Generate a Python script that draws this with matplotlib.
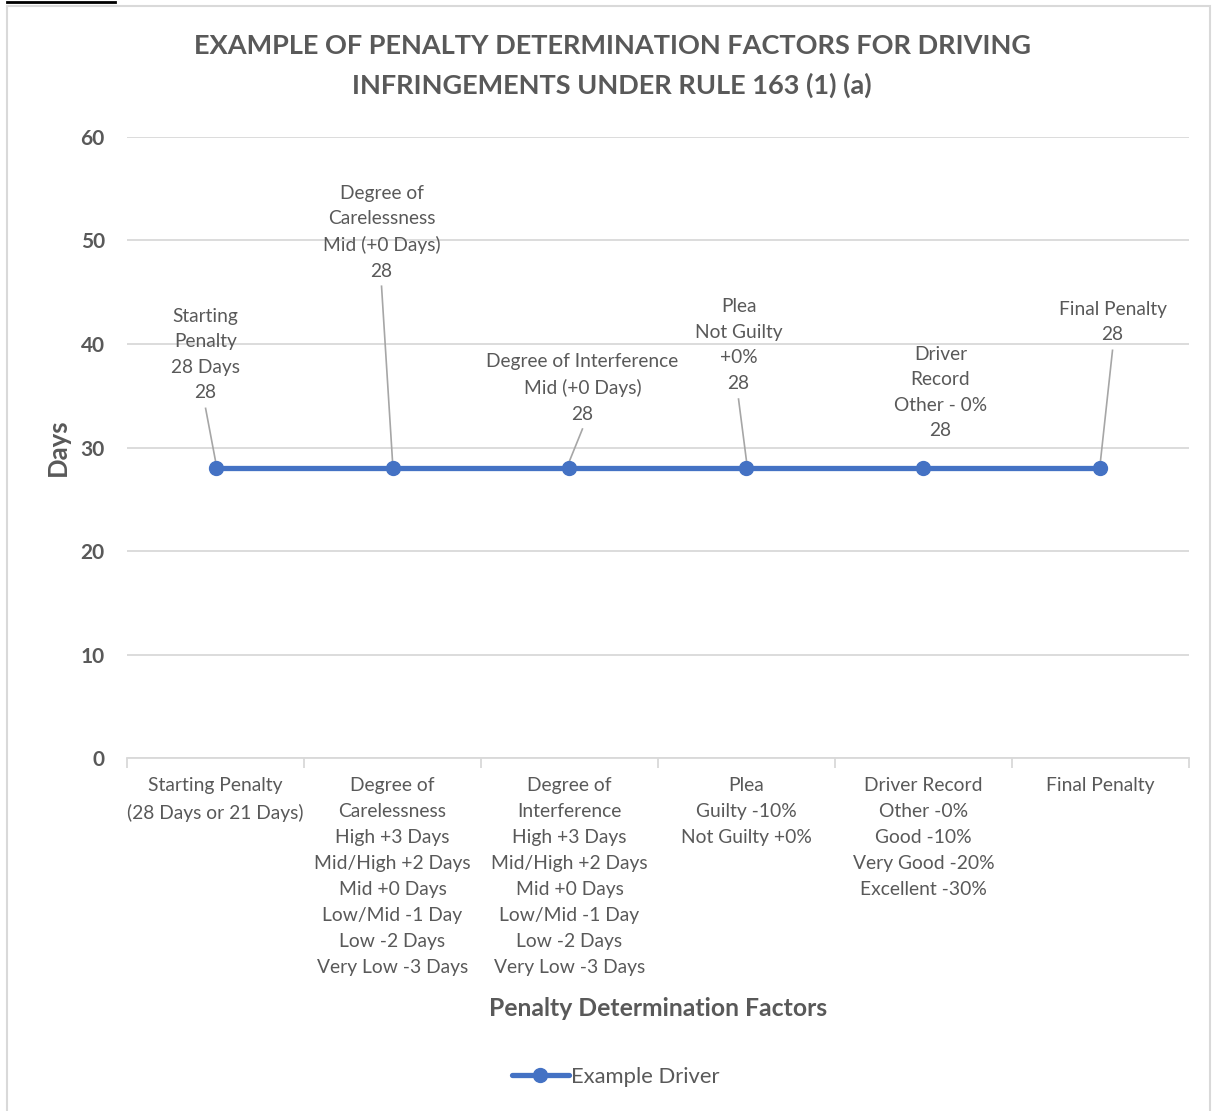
import matplotlib.pyplot as plt
from matplotlib.lines import Line2D
from matplotlib.patches import Rectangle

plt.rcParams['font.family'] = ['Lato', 'DejaVu Sans']

# data
categories = [
    "Starting Penalty\n(28 Days or 21 Days)",
    "Degree of\nCarelessness\nHigh +3 Days\nMid/High +2 Days\nMid +0 Days\nLow/Mid -1 Day\nLow -2 Days\nVery Low -3 Days",
    "Degree of\nInterference\nHigh +3 Days\nMid/High +2 Days\nMid +0 Days\nLow/Mid -1 Day\nLow -2 Days\nVery Low -3 Days",
    "Plea\nGuilty -10%\nNot Guilty +0%",
    "Driver Record\nOther -0%\nGood -10%\nVery Good -20%\nExcellent -30%",
    "Final Penalty",
]
days = [28, 28, 28, 28, 28, 28]
point_labels = [
    "Starting\nPenalty\n28 Days\n28",
    "Degree of\nCarelessness\nMid (+0 Days)\n28",
    "Degree of Interference\nMid (+0 Days)\n28",
    "Plea\nNot Guilty\n+0%\n28",
    "Driver\nRecord\nOther - 0%\n28",
    "Final Penalty\n28",
]
# label offsets (category units, days) from each point
label_dx = [-0.056, -0.062, 0.073, -0.045, 0.096, 0.068]
label_dy = [11.0, 22.8, 7.75, 11.9, 7.3, 14.1]
leader = [True, True, True, True, False, True]

grey = "#595959"
blue = "#4472C4"
line_h = 2.51  # one text line, in days

fig = plt.figure(figsize=(12.12, 11.11), dpi=100)
ax = fig.add_axes([0.1048, 0.3177, 0.8762, 0.559])

x = list(range(len(categories)))
ax.plot(x, days, color=blue, lw=3.8, marker='o', ms=10, label="Example Driver", zorder=3,
        solid_capstyle='round')

for i in x:
    tx = i + label_dx[i]
    ty = days[i] + label_dy[i]
    ax.text(tx, ty, point_labels[i], ha='center', va='center', fontsize=13.8,
            color=grey, linespacing=1.6, zorder=4)
    if leader[i]:
        nlines = point_labels[i].count("\n") + 1
        half = nlines * line_h / 2 + 0.2
        ax.plot([tx, i], [ty - half, days[i] + 0.7], color="#A6A6A6", lw=1.2, zorder=2)

ax.set_xlim(-0.5, len(categories) - 0.5)
ax.set_ylim(0, 60)
ax.set_yticks(range(0, 61, 10))
ax.yaxis.grid(True, color="#D9D9D9", lw=1.3)
ax.set_axisbelow(True)
for s in ['top', 'right', 'left']:
    ax.spines[s].set_visible(False)
ax.spines['bottom'].set_color("#D9D9D9")
ax.spines['bottom'].set_linewidth(1.3)
ax.tick_params(axis='y', length=0, pad=16, labelsize=15, labelcolor=grey)
for t in ax.get_yticklabels():
    t.set_fontweight('bold')

ax.set_xticks(x)
ax.set_xticklabels(categories, fontsize=13.9, color=grey, linespacing=1.64, va='top')
ax.tick_params(axis='x', length=0, pad=14)
ax.set_xticks([i - 0.5 for i in range(len(categories) + 1)], minor=True)
ax.tick_params(axis='x', which='minor', length=7, color="#D9D9D9", width=1.3)

ax.set_ylabel("Days", fontsize=18.5, fontweight='bold', color=grey, labelpad=8)
ax.set_xlabel("Penalty Determination Factors", fontsize=17.8, fontweight='bold',
              color=grey, labelpad=15)

fig.text(0.505, 0.9406, "EXAMPLE OF PENALTY DETERMINATION FACTORS FOR DRIVING\nINFRINGEMENTS UNDER RULE 163 (1) (a)",
         ha='center', va='center', fontsize=19.5, fontweight='bold', color=grey, linespacing=1.66)

fig.legend(handles=[Line2D([], [], color=blue, lw=3.8, marker='o', ms=10, solid_capstyle='round')],
           labels=["Example Driver"], loc='center', bbox_to_anchor=(0.508, 0.031),
           frameon=False, fontsize=15.8, labelcolor=grey, handlelength=2.6, handletextpad=0.1)

# chart border
fig.patches.append(Rectangle((7 / 1212, -0.01), 1203 / 1212, 1 - 6 / 1111 + 0.01,
                             transform=fig.transFigure, fill=False, ec="#D9D9D9", lw=1.5))
fig.lines.append(Line2D([7 / 1212, 115 / 1212], [1 - 2 / 1111] * 2, transform=fig.transFigure,
                        color="black", lw=2))

fig.savefig("out.png", dpi=100)
